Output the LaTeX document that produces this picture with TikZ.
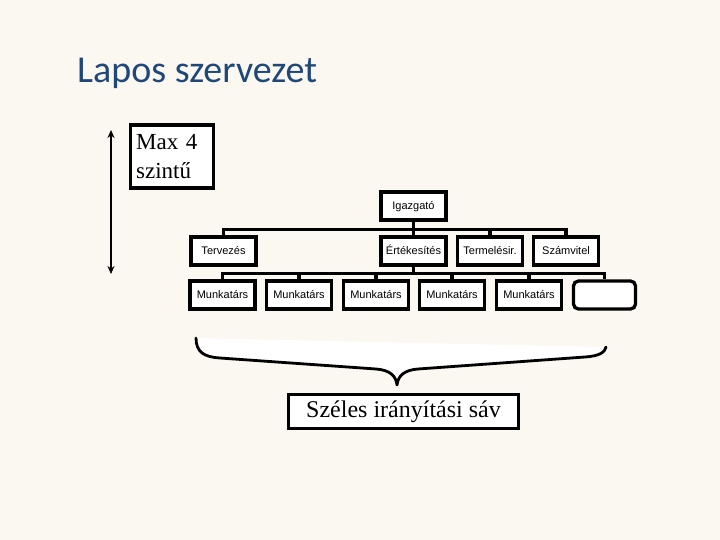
\documentclass[tikz,border=0pt]{standalone}
\usepackage{fontspec}
\setmainfont{Liberation Serif}
\newfontfamily\arialf{Liberation Sans}
\newfontfamily\titlef{Carlito}
\usetikzlibrary{arrows.meta}
\definecolor{bgc}{RGB}{251,247,241}
\definecolor{titlec}{RGB}{31,71,120}
\tikzset{
  orgbox/.style={draw=black, fill=white, line width=3.3pt, minimum width=65pt, minimum height=28pt, inner sep=0pt, text height=7.9pt, text depth=0pt, font=\arialf\fontsize{11}{13}\selectfont},
  conn/.style={line width=3.3pt},
  bigbox/.style={draw=black, fill=white, line width=3.3pt, inner sep=0pt}
}
\begin{document}
\begin{tikzpicture}[x=1pt,y=-1pt]
\fill[bgc] (0,0) rectangle (720,540);
\useasboundingbox (0,0) rectangle (720,540);

% title
\node[anchor=base west, inner sep=0pt, text=titlec, font=\titlef\fontsize{38}{44}\selectfont] (title) at (77,83) {Lapos szervezet};

% Max 4 box
\node[bigbox, anchor=north west, minimum width=83pt, minimum height=63pt, text width=71pt, inner xsep=6pt, align=left, font=\fontsize{23}{29}\selectfont] (maxbox) at (128.5,123.5) {Max 4\\szintű};

% arrow
\coordinate (atop) at (111,130);
\coordinate (abot) at (111,274);
\draw[line width=2.8pt, {Stealth[length=8pt,width=7pt]}-{Stealth[length=8pt,width=7pt]}] (atop) -- (abot);

% org chart
\node[orgbox] (ig) at (413.5,206) {Igazgató};
\node[orgbox] (terv) at (223.5,251) {Tervezés};
\node[orgbox] (ert) at (413.5,251) {Értékesítés};
\node[orgbox] (term) at (490,251) {Termelésir.};
\node[orgbox] (szam) at (566,251) {Számvitel};

\node[orgbox] (m1) at (222.5,295) {Munkatárs};
\node[orgbox] (m2) at (299,295) {Munkatárs};
\node[orgbox] (m3) at (376,295) {Munkatárs};
\node[orgbox] (m4) at (452,295) {Munkatárs};
\node[orgbox] (m5) at (529,295) {Munkatárs};
\node[orgbox, rounded corners=5pt, minimum width=62pt] (m6) at (604.5,295) {};

\coordinate (b2) at (0,229.5);
\coordinate (b3) at (0,273.5);
\draw[conn] (ig.south) -- (ig.south |- b2);
\draw[conn] (terv.north) -- (terv.north |- b2) -- (szam.north |- b2) -- (szam.north);
\draw[conn] (ert.north) -- (ert.north |- b2);
\draw[conn] (term.north) -- (term.north |- b2);

\draw[conn] (ert.south) -- (ert.south |- b3);
\draw[conn] (m1.north) -- (m1.north |- b3) -- (m6.north |- b3) -- (m6.north);
\draw[conn] (m2.north) -- (m2.north |- b3);
\draw[conn] (m3.north) -- (m3.north |- b3);
\draw[conn] (m4.north) -- (m4.north |- b3);
\draw[conn] (m5.north) -- (m5.north |- b3);

% brace
\fill[white] (196,338) .. controls (196,352) and (204,357) .. (220,358)
  -- (376,369) .. controls (390,370) and (396,376) .. (397,385)
  .. controls (398,376) and (404,370) .. (418,369)
  -- (585,357) .. controls (600,356) and (605,352) .. (606,347) -- cycle;
\draw[line width=2.8pt, line cap=round, line join=round] (196,338) .. controls (196,352) and (204,357) .. (220,358)
  -- (376,369) .. controls (390,370) and (396,376) .. (397,385)
  .. controls (398,376) and (404,370) .. (418,369)
  -- (585,357) .. controls (600,356) and (605,352) .. (606,347);

% Szeles box
\node[bigbox, minimum width=230pt, minimum height=34pt, font=\fontsize{24}{28}\selectfont] (szeles) at (403.5,411.5) {Széles irányítási sáv};
\end{tikzpicture}
\end{document}
